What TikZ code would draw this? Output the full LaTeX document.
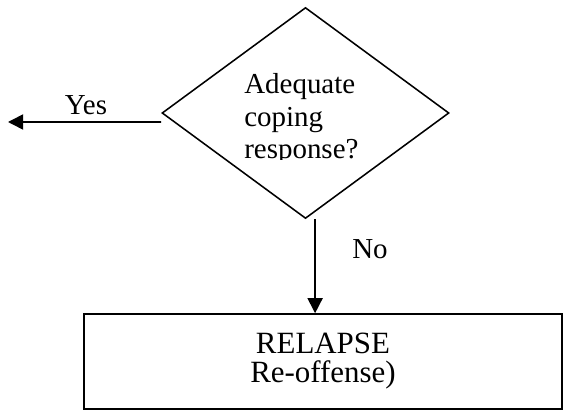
\documentclass[tikz,border=0pt]{standalone}
\usepackage{fontspec}
\setmainfont{Liberation Serif}
\usetikzlibrary{shapes.geometric, arrows.meta}
\tikzstyle{decision} = [diamond, draw=black, line width=1.1pt, minimum width=7.175cm, minimum height=5.275cm, inner sep=0, shape aspect=1.36]
\tikzstyle{outcome} = [rectangle, draw=black, line width=1.1pt, minimum width=11.95cm, minimum height=2.375cm, align=center, font=\fontsize{22}{20.6}\selectfont]
\tikzstyle{arrow} = [line width=1.1pt,-{Triangle[length=0.38cm,width=0.38cm]}]
\tikzstyle{lbl} = [inner sep=0, font=\fontsize{20.6}{23.1}\selectfont]

\begin{document}
\begin{tikzpicture}
\useasboundingbox (0,0) rectangle (14.125,10.275);

\node[decision] (cope) at (7.6375,7.45) {};
\begin{scope}
	\clip (5,6.275) rectangle (10,9);
	\node[lbl,align=left,anchor=north west] (copetext) at (6.1,8.445) {Adequate\\coping\\response?};
\end{scope}
\node[outcome] (relapse) at (8.075,1.2375) {RELAPSE\\Re-offense)};

% yes branch
\coordinate (yesend) at (0.2,7.225);
\draw[arrow] ([yshift=-0.225cm]cope.west) -- (yesend);
\node[lbl,anchor=base] (yes) at (2.15,7.4) {Yes};

% no branch
\coordinate (nostart) at ([xshift=0.24cm]cope.south);
\draw[arrow] (nostart) -- (nostart |- relapse.north);
\node[lbl,anchor=base west] (no) at (8.8,3.825) {No};
\end{tikzpicture}
\end{document}
